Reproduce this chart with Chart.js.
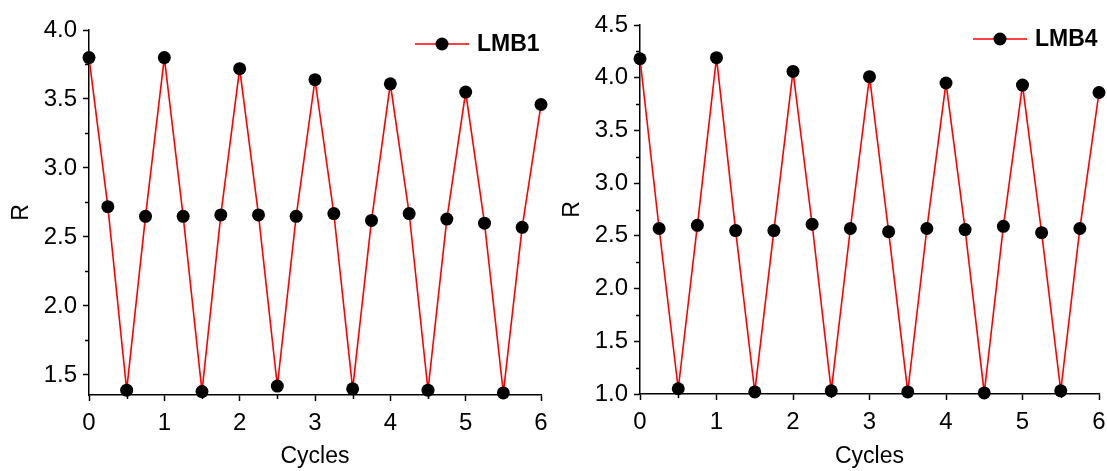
<!DOCTYPE html>
<html>
<head>
<meta charset="utf-8">
<script src="https://cdn.jsdelivr.net/npm/chart.js@4.4.1/dist/chart.umd.min.js"></script>
<style>
  html, body { margin: 0; padding: 0; background: #fff; overflow: hidden; width: 1107px; height: 471px; }
  .panel { position: absolute; top: 0; }
  #panelLeft { left: 0; }
  #panelRight { left: 551px; }
</style>
</head>
<body>
<div class="panel" id="panelLeft"><canvas id="chartLeft" width="560" height="471"></canvas></div>
<div class="panel" id="panelRight"><canvas id="chartRight" width="580" height="471"></canvas></div>
<script>
// cycle positions (quarter-cycle steps)
const cycles = [0, 0.25, 0.5, 0.75, 1, 1.25, 1.5, 1.75, 2, 2.25, 2.5, 2.75, 3,
                3.25, 3.5, 3.75, 4, 4.25, 4.5, 4.75, 5, 5.25, 5.5, 5.75, 6];

const lmb1 = [3.80, 2.72, 1.39, 2.65, 3.80, 2.65, 1.38, 2.66, 3.72, 2.66, 1.42, 2.65, 3.64,
              2.67, 1.40, 2.62, 3.61, 2.67, 1.39, 2.63, 3.55, 2.60, 1.37, 2.57, 3.46];

const lmb4 = [4.18, 2.57, 1.05, 2.60, 4.19, 2.55, 1.02, 2.55, 4.06, 2.61, 1.03, 2.57, 4.01,
              2.54, 1.02, 2.57, 3.95, 2.56, 1.01, 2.59, 3.93, 2.53, 1.03, 2.57, 3.86];

const xRange = [0, 6];
const yRangeLeft = [1.355, 4.0];
const yRangeRight = [1.0, 4.5];

const FONT = "'Liberation Sans', Arial, sans-serif";

// small outward ticks between the labelled ones
const minorTicks = {
  id: 'minorTicks',
  afterDraw(chart) {
    const ctx = chart.ctx;
    const xs = chart.scales.x, ys = chart.scales.y;
    ctx.save();
    ctx.strokeStyle = '#000';
    ctx.lineWidth = 1.5;
    ctx.beginPath();
    for (let v = Math.ceil(ys.min / 0.25) * 0.25; v <= ys.max + 1e-9; v += 0.25) {
      if (Math.abs(v / 0.5 - Math.round(v / 0.5)) < 1e-6) continue;
      const py = Math.round(ys.getPixelForValue(v)) + 0.5;
      ctx.moveTo(ys.right - 4, py);
      ctx.lineTo(ys.right, py);
    }
    for (let v = xs.min + 0.5; v < xs.max; v += 1) {
      const px = Math.round(xs.getPixelForValue(v)) + 0.5;
      ctx.moveTo(px, xs.top);
      ctx.lineTo(px, xs.top + 4);
    }
    ctx.stroke();
    ctx.restore();
  }
};

// legend sitting inside the plot, top right: line + marker + bold label
const insideLegend = {
  id: 'insideLegend',
  afterDraw(chart) {
    const ds = chart.data.datasets[0];
    const area = chart.chartArea;
    const ctx = chart.ctx;
    const x0 = area.right - 126, y0 = area.top + 14, len = 54;
    ctx.save();
    ctx.strokeStyle = ds.borderColor;
    ctx.lineWidth = ds.borderWidth;
    ctx.beginPath();
    ctx.moveTo(x0, y0);
    ctx.lineTo(x0 + len, y0);
    ctx.stroke();
    ctx.fillStyle = ds.pointBackgroundColor;
    ctx.beginPath();
    ctx.arc(x0 + len / 2, y0, ds.pointRadius, 0, Math.PI * 2);
    ctx.fill();
    ctx.fillStyle = '#000';
    ctx.font = 'bold 23px ' + FONT;
    ctx.textBaseline = 'middle';
    ctx.textAlign = 'left';
    ctx.fillText(ds.label, area.right - 64, y0 + 1);
    ctx.restore();
  }
};

function makeChart(id, label, values, yRange, opts) {
  const points = cycles.map((c, i) => ({ x: c, y: values[i] }));
  return new Chart(document.getElementById(id), {
    type: 'line',
    data: {
      datasets: [{
        label: label,
        data: points,
        borderColor: '#ff0000',
        borderWidth: 1.6,
        pointRadius: 6.5,
        pointBackgroundColor: '#000',
        pointBorderColor: '#000',
        pointBorderWidth: 0,
        tension: 0,
        clip: false
      }]
    },
    options: {
      responsive: false,
      animation: false,
      layout: { padding: { top: opts.top, right: opts.right, left: 0, bottom: 0 } },
      plugins: { legend: { display: false }, tooltip: { enabled: false } },
      scales: {
        x: {
          type: 'linear',
          min: xRange[0],
          max: xRange[1],
          afterFit: s => { s.height = opts.xHeight; },
          border: { display: true, color: '#000', width: 1.5 },
          grid: { drawOnChartArea: false, drawTicks: true, tickLength: 6, color: '#000', tickWidth: 1.5 },
          ticks: { stepSize: 1, color: '#000', padding: 8, maxRotation: 0, font: { family: FONT, size: 24 } },
          title: { display: true, text: 'Cycles', color: '#000', padding: { top: 0, bottom: 1 }, font: { family: FONT, size: 23 } }
        },
        y: {
          type: 'linear',
          min: yRange[0],
          max: yRange[1],
          afterFit: s => { s.width = 89; },
          border: { display: true, color: '#000', width: 1.5 },
          grid: { drawOnChartArea: false, drawTicks: true, tickLength: 6, color: '#000', tickWidth: 1.5 },
          ticks: {
            stepSize: 0.5, includeBounds: false, color: '#000', padding: 6,
            font: { family: FONT, size: 24 },
            callback: v => v.toFixed(1)
          },
          title: { display: true, text: 'R', color: '#000', padding: { top: 8, bottom: 0 }, font: { family: FONT, size: 23 } }
        }
      }
    },
    plugins: [minorTicks, insideLegend]
  });
}

makeChart('chartLeft', 'LMB1', lmb1, yRangeLeft, { top: 30, right: 19, xHeight: 76 });
makeChart('chartRight', 'LMB4', lmb4, yRangeRight, { top: 25, right: 32, xHeight: 77 });
</script>
</body>
</html>
